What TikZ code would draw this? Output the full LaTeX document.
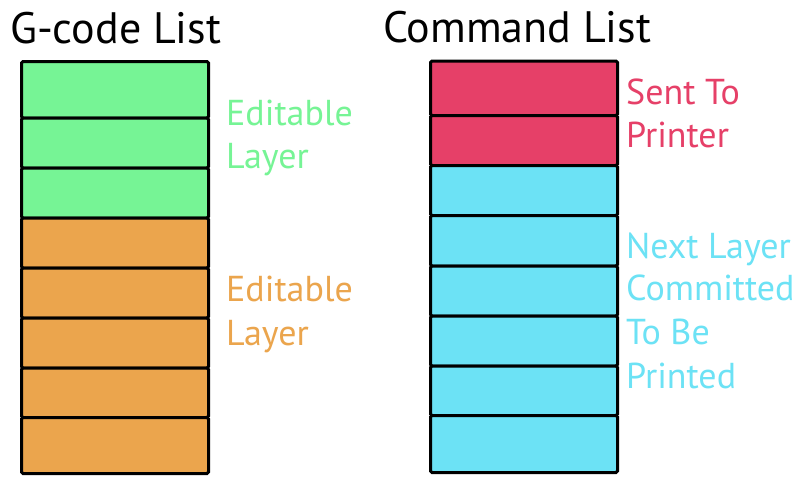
\documentclass[tikz,border=0pt]{standalone}
\usepackage{fontspec}
\setmainfont{PT Sans}
\definecolor{cgreen}{HTML}{76F495}
\definecolor{corange}{HTML}{EBA54D}
\definecolor{cred}{HTML}{E64068}
\definecolor{ccyan}{HTML}{6CE2F5}
\begin{document}
\begin{tikzpicture}[x=1pt,y=1pt,
  cell/.style={draw=black,line width=3pt,inner sep=0pt,minimum width=187pt,anchor=north west,rounded corners=1.5pt},
  title/.style={anchor=base west,inner sep=0pt,font=\fontsize{44}{50}\selectfont},
  lbl/.style={anchor=base west,inner sep=0pt,font=\fontsize{36}{43}\selectfont}]
\useasboundingbox (0,0) rectangle (812,-496);
\fill[white] (0,0) rectangle (812,-496);
% left column
\node[cell,fill=cgreen,minimum height=56.5pt] (g1) at (20,-60) {};
\node[cell,fill=cgreen,minimum height=50pt] (g2) at (20,-116.5) {};
\node[cell,fill=cgreen,minimum height=50pt] (g3) at (20,-166.5) {};
\node[cell,fill=corange,minimum height=50pt] (o1) at (20,-216.5) {};
\node[cell,fill=corange,minimum height=50pt] (o2) at (20,-266.5) {};
\node[cell,fill=corange,minimum height=50pt] (o3) at (20,-316.5) {};
\node[cell,fill=corange,minimum height=49.5pt] (o4) at (20,-366.5) {};
\node[cell,fill=corange,minimum height=56pt] (o5) at (20,-416) {};
% right column
\node[cell,fill=cred,minimum height=54.5pt] (r1) at (429,-59.5) {};
\node[cell,fill=cred,minimum height=50pt] (r2) at (429,-114) {};
\node[cell,fill=ccyan,minimum height=50pt] (c1) at (429,-164) {};
\node[cell,fill=ccyan,minimum height=50.5pt] (c2) at (429,-214) {};
\node[cell,fill=ccyan,minimum height=50pt] (c3) at (429,-264.5) {};
\node[cell,fill=ccyan,minimum height=50pt] (c4) at (429,-314.5) {};
\node[cell,fill=ccyan,minimum height=49.5pt] (c5) at (429,-364.5) {};
\node[cell,fill=ccyan,minimum height=57pt] (c6) at (429,-414) {};
% titles
\node[title] (t1) at (10,-43) {G-code List};
\node[title] (t2) at (383,-42) {Command List};
% labels
\node[lbl,text=cgreen] (ge1) at (226,-125) {Editable};
\node[lbl,text=cgreen] (ge2) at (226,-168.5) {Layer};
\node[lbl,text=corange] (oe1) at (226,-301.7) {Editable};
\node[lbl,text=corange] (oe2) at (226,-345) {Layer};
\node[lbl,text=cred] (rs1) at (626,-104) {Sent To};
\node[lbl,text=cred] (rs2) at (626,-147) {Printer};
\node[lbl,text=ccyan] (cn1) at (626,-258) {Next Layer};
\node[lbl,text=ccyan] (cn2) at (626,-300.5) {Committed};
\node[lbl,text=ccyan] (cn3) at (626,-344) {To Be};
\node[lbl,text=ccyan] (cn4) at (626,-388) {Printed};
\end{tikzpicture}
\end{document}
